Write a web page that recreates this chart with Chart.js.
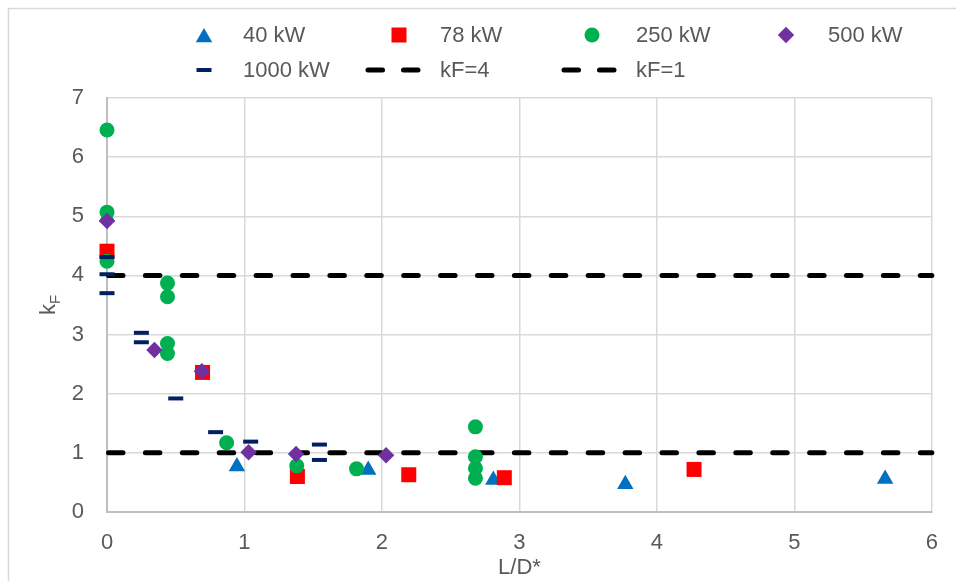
<!DOCTYPE html>
<html>
<head>
<meta charset="utf-8">
<title>kF vs L/D*</title>
<script src="https://cdn.jsdelivr.net/npm/chart.js@4/dist/chart.umd.min.js"></script>
<style>
  html, body { margin: 0; padding: 0; background: #ffffff; overflow: hidden; }
  canvas { display: block; }
</style>
</head>
<body>
<canvas id="chart" width="956" height="581"></canvas>
<script>
// ---- data ---------------------------------------------------------------
const seriesNames = ['40 kW', '78 kW', '250 kW', '500 kW', '1000 kW', 'kF=4', 'kF=1'];

const x40 = [0, 0.945, 1.90, 2.81, 3.77, 5.66];
const y40 = [4.99, 0.77, 0.71, 0.54, 0.47, 0.56];

const x78 = [0, 0.695, 1.385, 2.195, 2.89, 4.27];
const y78 = [4.41, 2.36, 0.60, 0.63, 0.58, 0.72];

const x250 = [0, 0, 0, 0.44, 0.44, 0.44, 0.44, 0.87, 1.38, 1.815, 2.68, 2.68, 2.68, 2.68];
const y250 = [6.46, 5.07, 4.24, 3.87, 3.64, 2.85, 2.68, 1.17, 0.78, 0.73, 1.44, 0.935, 0.74, 0.57];

const x500 = [0, 0.345, 0.69, 1.03, 1.375, 2.03];
const y500 = [4.92, 2.74, 2.38, 1.01, 0.98, 0.96];

const x1000 = [0, 0, 0, 0.25, 0.25, 0.50, 0.79, 1.045, 1.545, 1.545];
const y1000 = [4.31, 4.02, 3.70, 3.03, 2.87, 1.92, 1.35, 1.19, 1.14, 0.88];

const refX = [0, 6];
const kF4 = [4, 4];
const kF1 = [1, 1];

const xTicks = [0, 1, 2, 3, 4, 5, 6];
const yTicks = [0, 1, 2, 3, 4, 5, 6, 7];
const xTitle = 'L/D*';
const yTitleMain = 'k';
const yTitleSub = 'F';

// ---- styling ------------------------------------------------------------
const FONT = "'Liberation Sans', Arial, sans-serif";
const FS = 22;
const TEXT = '#595959';
const C40 = '#0070C0', C78 = '#FF0000', C250 = '#00B050', C500 = '#7030A0', C1000 = '#002060';

const pts = (xs, ys) => xs.map((x, i) => ({ x: x, y: ys[i] }));

const markerSets = [
  { data: pts(x40, y40),     style: 'triangle', r: 9.5, color: C40,   bw: 0, order: 5 },
  { data: pts(x78, y78),     style: 'rect',     r: 10.6, color: C78,  bw: 0, order: 4 },
  { data: pts(x250, y250),   style: 'circle',   r: 7.5, color: C250,  bw: 0, order: 3 },
  { data: pts(x500, y500),   style: 'rectRot',  r: 8.2, color: C500,  bw: 0, order: 2 },
  { data: pts(x1000, y1000), style: 'line',     r: 7.5, color: C1000, bw: 4, order: 1 }
];

const datasets = markerSets.map((s, i) => ({
  label: seriesNames[i],
  data: s.data,
  pointStyle: s.style,
  pointRadius: s.r,
  pointBackgroundColor: s.color,
  pointBorderColor: s.color,
  pointBorderWidth: s.bw,
  showLine: false,
  clip: false,
  order: s.order
}));

[[kF4, 5, 7], [kF1, 6, 6]].forEach(([vals, idx, ord]) => {
  datasets.push({
    label: seriesNames[idx],
    data: pts(refX, vals),
    showLine: true,
    borderColor: '#000000',
    borderWidth: 5,
    borderDash: [14.5, 22.4],
    borderDashOffset: -1.5,
    borderCapStyle: 'round',
    pointRadius: 0,
    clip: false,
    order: ord
  });
});

// ---- custom legend, y title and outer frame ------------------------------
function drawSymbol(ctx, kind, x, y, color) {
  ctx.save();
  ctx.fillStyle = color;
  ctx.strokeStyle = color;
  ctx.beginPath();
  if (kind === 'triangle') {
    const r = 9.5, cy = y + 2.4;
    ctx.moveTo(x, cy - r);
    ctx.lineTo(x + r * 0.866, cy + r / 2);
    ctx.lineTo(x - r * 0.866, cy + r / 2);
    ctx.closePath();
    ctx.fill();
  } else if (kind === 'rect') {
    ctx.rect(x - 7.5, y - 7.5, 15, 15);
    ctx.fill();
  } else if (kind === 'circle') {
    ctx.arc(x, y, 7.5, 0, Math.PI * 2);
    ctx.fill();
  } else if (kind === 'rectRot') {
    ctx.moveTo(x - 8.2, y);
    ctx.lineTo(x, y - 8.2);
    ctx.lineTo(x + 8.2, y);
    ctx.lineTo(x, y + 8.2);
    ctx.closePath();
    ctx.fill();
  } else if (kind === 'line') {
    ctx.lineWidth = 4;
    ctx.moveTo(x - 7.5, y);
    ctx.lineTo(x + 7.5, y);
    ctx.stroke();
  } else if (kind === 'dash') {
    ctx.lineWidth = 5;
    ctx.lineCap = 'round';
    ctx.moveTo(x - 25, y); ctx.lineTo(x - 10.5, y);
    ctx.moveTo(x + 10.5, y); ctx.lineTo(x + 25, y);
    ctx.stroke();
  }
  ctx.restore();
}

const legendLayout = [
  { kind: 'triangle', color: C40,   sx: 204, tx: 243, y: 35 },
  { kind: 'rect',     color: C78,   sx: 399, tx: 440, y: 35 },
  { kind: 'circle',   color: C250,  sx: 592, tx: 636, y: 35 },
  { kind: 'rectRot',  color: C500,  sx: 786, tx: 828, y: 35 },
  { kind: 'line',     color: C1000, sx: 204, tx: 243, y: 70 },
  { kind: 'dash',     color: '#000', sx: 393, tx: 440, y: 70 },
  { kind: 'dash',     color: '#000', sx: 589, tx: 636, y: 70 }
];

const decorPlugin = {
  id: 'decor',
  beforeDraw(chart) {
    const ctx = chart.ctx;
    ctx.save();
    ctx.fillStyle = '#ffffff';
    ctx.fillRect(0, 0, chart.width, chart.height);
    ctx.strokeStyle = '#d9d9d9';
    ctx.lineWidth = 1.5;
    ctx.strokeRect(8.5, 8.5, chart.width + 20, chart.height + 20);
    ctx.restore();
  },
  afterDraw(chart) {
    const ctx = chart.ctx;
    ctx.save();
    ctx.font = FS + 'px ' + FONT;
    ctx.fillStyle = TEXT;
    ctx.textBaseline = 'middle';
    ctx.textAlign = 'left';
    legendLayout.forEach((item, i) => {
      drawSymbol(ctx, item.kind, item.sx, item.y, item.color);
      ctx.fillStyle = TEXT;
      ctx.fillText(seriesNames[i], item.tx, item.y + 1);
    });

    // rotated y-axis title with subscript
    ctx.translate(47, 305);
    ctx.rotate(-Math.PI / 2);
    ctx.textBaseline = 'alphabetic';
    ctx.font = FS + 'px ' + FONT;
    const kw = ctx.measureText(yTitleMain).width;
    ctx.font = '15px ' + FONT;
    const fw = ctx.measureText(yTitleSub).width;
    const start = -(kw + fw) / 2;
    ctx.font = FS + 'px ' + FONT;
    ctx.fillText(yTitleMain, start, 8);
    ctx.font = '15px ' + FONT;
    ctx.fillText(yTitleSub, start + kw, 13);
    ctx.restore();
  }
};

// ---- chart --------------------------------------------------------------
new Chart(document.getElementById('chart'), {
  type: 'scatter',
  data: { datasets: datasets },
  plugins: [decorPlugin],
  options: {
    responsive: false,
    animation: false,
    events: [],
    layout: { padding: { top: 98, right: 24, left: 0, bottom: 0 } },
    plugins: { legend: { display: false }, tooltip: { enabled: false } },
    scales: {
      x: {
        type: 'linear',
        min: xTicks[0],
        max: xTicks[xTicks.length - 1],
        afterBuildTicks: s => { s.ticks = xTicks.map(v => ({ value: v })); },
        afterFit: s => { s.height = 69; },
        grid: { color: '#d9d9d9', lineWidth: 1.5, drawTicks: false },
        border: { color: '#bfbfbf', width: 2 },
        ticks: { color: TEXT, font: { size: FS, family: FONT }, padding: 18, maxRotation: 0 },
        title: { display: true, text: xTitle, color: TEXT, font: { size: FS, family: FONT }, padding: { top: 0, bottom: 0 } }
      },
      y: {
        type: 'linear',
        min: yTicks[0],
        max: yTicks[yTicks.length - 1],
        afterBuildTicks: s => { s.ticks = yTicks.map(v => ({ value: v })); },
        afterFit: s => { s.width = 107; },
        grid: { color: '#d9d9d9', lineWidth: 1.5, drawTicks: false },
        border: { color: '#bfbfbf', width: 2 },
        ticks: { color: TEXT, font: { size: FS, family: FONT }, padding: 23 }
      }
    }
  }
});
</script>
</body>
</html>
